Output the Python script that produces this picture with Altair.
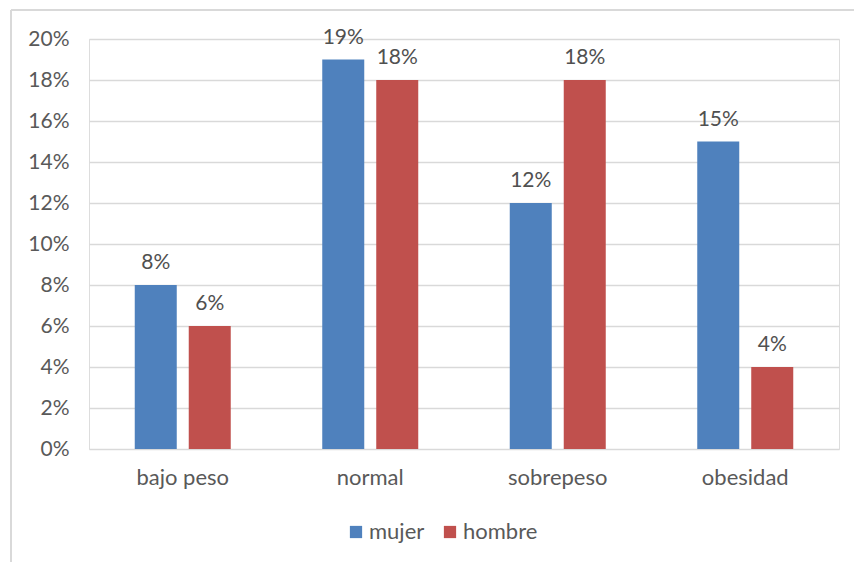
import altair as alt
import pandas as pd

# Body-mass categories and the share of each group in them
categories = ["bajo peso", "normal", "sobrepeso", "obesidad"]
groups = ["mujer", "hombre"]
mujer = [0.08, 0.19, 0.12, 0.15]
hombre = [0.06, 0.18, 0.18, 0.04]
y_ticks = [0, 0.02, 0.04, 0.06, 0.08, 0.10, 0.12, 0.14, 0.16, 0.18, 0.20]

rows = []
for cat, m, h in zip(categories, mujer, hombre):
    rows.append({"categoria": cat, "sexo": "mujer", "valor": m})
    rows.append({"categoria": cat, "sexo": "hombre", "valor": h})
df = pd.DataFrame(rows)

FONT = "Lato"
GRAY = "#595959"

x_enc = alt.X(
    "categoria:N",
    sort=categories,
    title=None,
    scale=alt.Scale(paddingInner=0.488, paddingOuter=0.244),
    axis=alt.Axis(labelAngle=0, labelPadding=18, ticks=False, domain=False,
                  labelFontSize=22, labelColor=GRAY, labelFont=FONT),
)
xoff = alt.XOffset("sexo:N", sort=groups,
                   scale=alt.Scale(paddingInner=0.222, paddingOuter=0))
y_enc = alt.Y(
    "valor:Q",
    title=None,
    scale=alt.Scale(domain=[0, 0.20], nice=False),
    axis=alt.Axis(values=y_ticks, format=".0%", ticks=False, domain=False,
                  labelPadding=20, labelFontSize=21, labelColor=GRAY,
                  labelFont=FONT, gridColor="#d9d9d9", gridWidth=1.5),
)
color = alt.Color(
    "sexo:N",
    sort=groups,
    scale=alt.Scale(domain=groups, range=["#4f81bd", "#c0504d"]),
    legend=alt.Legend(title=None, orient="none", direction="horizontal",
                      legendX=256, legendY=482, symbolType="square",
                      symbolSize=150, symbolStrokeWidth=0, labelFontSize=22,
                      labelColor=GRAY, labelFont=FONT, labelOffset=2,
                      columnPadding=14),
)

base = alt.Chart(df)
bars = base.mark_bar().encode(x=x_enc, xOffset=xoff, y=y_enc, color=color)
labels = base.mark_text(baseline="alphabetic", dy=-16, fontSize=21, font=FONT,
                        color="#505050").encode(
    x=x_enc, xOffset=xoff, y=y_enc, text=alt.Text("valor:Q", format=".0%"))

# Thin frame around the chart area
frame_df = pd.DataFrame({"f": [0]})
frame_top = alt.Chart(frame_df).mark_rule(color="#d9d9d9", strokeWidth=2).encode(
    x=alt.value(-78), x2=alt.value(800), y=alt.value(-29))
frame_left = alt.Chart(frame_df).mark_rule(color="#d9d9d9", strokeWidth=2).encode(
    x=alt.value(-78), y=alt.value(-29), y2=alt.value(560))

chart = alt.layer(bars, labels, frame_top, frame_left).properties(
    width=750, height=410,
    autosize=alt.AutoSizeParams(type="none"),
    padding={"left": 89, "top": 39, "right": 15, "bottom": 113},
).configure_view(stroke=None).configure(background="white")

chart.save("out.html", embed_options={"renderer": "svg", "actions": False})
